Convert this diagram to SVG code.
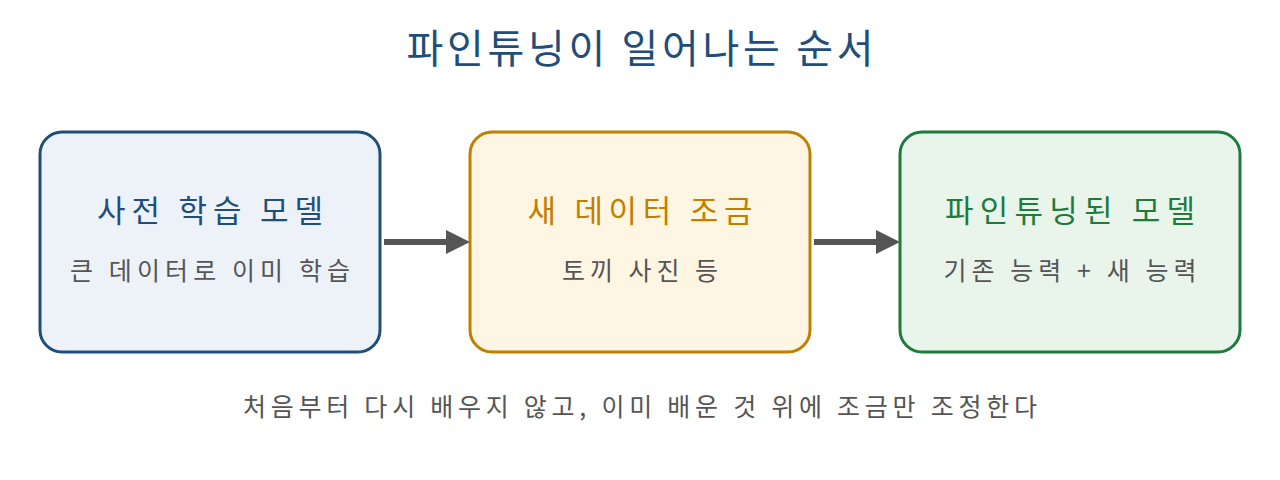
<svg xmlns="http://www.w3.org/2000/svg" width="1280" height="480" viewBox="0 0 1280 480">
<style>
text{font-family:"Noto Sans CJK KR","Noto Sans",sans-serif;text-anchor:middle}
.t{font-size:31px}
.s{font-size:25px;fill:#555}
</style>
<defs><marker id="a" markerWidth="4" markerHeight="4" refX="0" refY="2" orient="auto"><path d="M0,0L4,2L0,4z" fill="#555"/></marker></defs>
<rect width="1280" height="480" fill="#fff"/>
<text x="640" y="63" font-size="40" fill="#1f4e79" textLength="467" lengthAdjust="spacing">파인튜닝이 일어나는 순서</text>
<g id="n1"><rect x="40" y="132" width="340" height="220" rx="22" fill="#edf2f9" stroke="#1f4e79" stroke-width="3"/>
<text class="t" x="210" y="222" fill="#1f4e79" textLength="226" lengthAdjust="spacing">사전 학습 모델</text><text class="s" x="210" y="280" textLength="280" lengthAdjust="spacing">큰 데이터로 이미 학습</text></g>
<g id="n2"><rect x="470" y="132" width="340" height="220" rx="22" fill="#fff5e3" stroke="#bf7f00" stroke-width="3"/>
<text class="t" x="640" y="222" fill="#bf7f00" textLength="225" lengthAdjust="spacing">새 데이터 조금</text><text class="s" x="640" y="280" textLength="156" lengthAdjust="spacing">토끼 사진 등</text></g>
<g id="n3"><rect x="900" y="132" width="340" height="220" rx="22" fill="#e9f5ea" stroke="#1e7b3c" stroke-width="3"/>
<text class="t" x="1070" y="222" fill="#1e7b3c" textLength="250" lengthAdjust="spacing">파인튜닝된 모델</text><text class="s" x="1070" y="280" textLength="253" lengthAdjust="spacing">기존 능력 + 새 능력</text></g>
<g id="c" stroke="#555" stroke-width="6" marker-end="url(#a)"><line x1="384" y1="242" x2="446" y2="242"/><line x1="814" y1="242" x2="876" y2="242"/></g>
<text class="s" x="640" y="416" textLength="794" lengthAdjust="spacing">처음부터 다시 배우지 않고, 이미 배운 것 위에 조금만 조정한다</text>
</svg>
